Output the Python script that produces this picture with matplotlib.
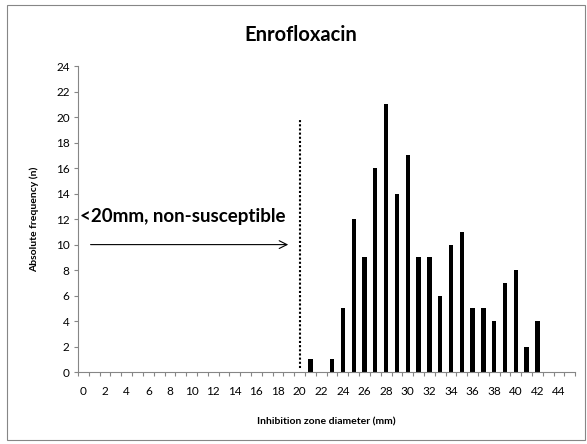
import numpy as np
from matplotlib import pyplot as plt
from matplotlib.patches import Rectangle

plt.rcParams["font.family"] = ["Lato", "DejaVu Sans"]

# zone diameters (mm) and counts
diameters = np.arange(21, 43)
counts = [1, 0, 1, 5, 12, 9, 16, 21, 14, 17, 9, 9, 6, 10, 11, 5, 5, 4, 7, 8, 2, 4]
n_categories = 46
breakpoint_mm = 20
y_ticks = np.arange(0, 25, 2)

fig = plt.figure(figsize=(5.87, 4.44), dpi=100)
ax = fig.add_axes([0.133, 0.162, 0.847, 0.689])

ax.bar(diameters, counts, width=0.4, color="black")

# breakpoint marker and annotation
ax.plot([breakpoint_mm, breakpoint_mm], [0.3, 19.8], color="black", ls=(0, (1, 1)), lw=1.5)
ax.annotate(
    "",
    xy=(19.2, 10),
    xytext=(0.4, 10),
    arrowprops=dict(arrowstyle="->", color="black", lw=0.8, mutation_scale=14),
)
ax.text(-0.3, 12.2, "<20mm, non-susceptible", fontsize=13.5, fontweight="bold", va="center", ha="left")

ax.set_xlim(-0.5, n_categories - 0.5)
ax.set_ylim(0, 24)
ax.set_yticks(y_ticks)
ax.set_yticklabels([str(v) for v in y_ticks], fontsize=8.5)

ax.set_xticks(np.arange(-0.5, n_categories, 1))
ax.set_xticklabels([])
ax.set_xticks(np.arange(0, 45, 2), minor=True)
ax.set_xticklabels([str(v) for v in range(0, 45, 2)], minor=True, fontsize=8.5)
ax.tick_params(axis="x", which="major", length=3, color="#868686", direction="out")
ax.tick_params(axis="x", which="minor", length=0, pad=10)
ax.tick_params(axis="y", length=3, color="#868686", direction="out", pad=3)

for side in ["top", "right"]:
    ax.spines[side].set_visible(False)
for side in ["left", "bottom"]:
    ax.spines[side].set_color("#868686")
    ax.spines[side].set_linewidth(0.8)

ax.set_xlabel("Inhibition zone diameter (mm)", fontsize=7.5, fontweight="bold", labelpad=15)
ax.set_ylabel("Absolute frequency (n)", fontsize=7.5, fontweight="bold", labelpad=12)
fig.text(0.512, 0.921, "Enrofloxacin", fontsize=14.5, fontweight="bold", ha="center", va="center")

# outer chart frame
fig.patches.append(
    Rectangle((0.012, 0.01), 0.985, 0.978, transform=fig.transFigure, fill=False, edgecolor="#868686", lw=0.8)
)

plt.savefig("out.png")
